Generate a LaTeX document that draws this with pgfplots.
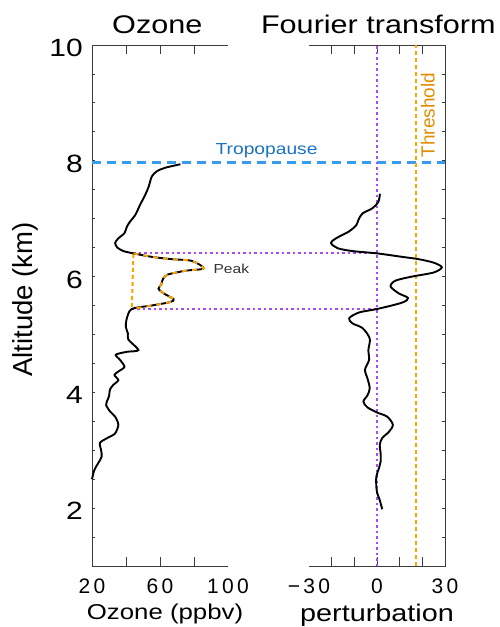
\documentclass[border=0pt]{standalone}
\usepackage{fontspec}
\setmainfont[FakeStretch=1.2]{Liberation Sans}
\newfontfamily\uprightsans{Liberation Sans}
\newfontfamily\tickfont[LetterSpace=16]{Liberation Sans}
\usepackage{pgfplots}
\pgfplotsset{compat=1.18}

\definecolor{tropo}{RGB}{55,155,240}
\definecolor{tropotext}{RGB}{25,115,195}
\definecolor{purp}{RGB}{170,75,245}
\definecolor{orng}{RGB}{255,165,0}
\definecolor{orngtext}{RGB}{225,140,0}
\definecolor{spine}{RGB}{60,60,60}

\pgfplotsset{
  panel/.style={
    scale only axis, width=136pt, height=521pt,
    anchor=south west,
    ymin=1, ymax=10,
    xtick pos=both,
    tick align=inside,
    axis line style={draw=none},
    major tick length=0pt, minor tick length=0pt,
    ytick={2,4,6,8,10},
    /pgf/number format/assume math mode=true,
    every x tick label/.append style={font=\tickfont\fontsize{21}{21}\selectfont, anchor=base, inner sep=0pt, yshift=-27pt},
    every y tick label/.append style={font=\fontsize{25}{25}\selectfont, anchor=east, inner sep=0pt, xshift=-9pt, yshift=-3pt},
    clip=false,
  },
  curve/.style={black, line width=1.9pt, smooth, tension=0.45, mark=none},
  purpline/.style={color=purp, line width=2pt, dash pattern=on 2.5pt off 3pt},
  orngline/.style={color=orng, line width=2pt, dash pattern=on 4pt off 3pt},
}

\begin{document}
\begin{tikzpicture}

% ---------------- ozone profile ----------------
\begin{axis}[panel, name=left, at={(0pt,0pt)},
    xmin=20, xmax=100,
    xtick={20,40,60,80,100}, xticklabels={20,,60,,100},
    yticklabels={2,4,6,8,10},
    ytick pos=left,
    title={Ozone}, xlabel={Ozone (ppbv)}, ylabel={Altitude (km)},
    every axis title/.style={font=\fontsize{25.5}{25.5}\selectfont, at={(axis description cs:0.48,1.023)}, anchor=base},
    every axis x label/.style={font=\fontsize{21.5}{21.5}\selectfont, at={(axis description cs:0.537,-0.1036)}, anchor=base},
    every axis y label/.style={font=\uprightsans\fontsize{27.5}{27.5}\selectfont, at={(axis description cs:-0.434,0.5115)}, anchor=base, rotate=90},
  ]
  % spines and ticks
  \draw[spine, line width=0.8pt] (rel axis cs:1,1) -- (rel axis cs:0,1) -- (rel axis cs:0,0) -- (rel axis cs:1,0);
  \pgfplotsinvokeforeach{40,60,80}{
    \draw[spine, line width=0.8pt] (axis cs:#1,1) -- ++(0pt,9pt);
    \draw[spine, line width=0.8pt] (axis cs:#1,10) -- ++(0pt,-9pt);
  }
  \pgfplotsinvokeforeach{1.5,2,2.5,3,3.5,4,4.5,5,5.5,6,6.5,7,7.5,8,8.5,9,9.5}{
    \draw[spine, line width=0.8pt] (axis cs:20,#1) -- ++(3pt,0pt);
  }
  % tropopause
  \addplot[tropo, line width=3pt, dash pattern=on 9pt off 6pt] coordinates {(20,7.97) (228.4,7.97)};
  % peak bounds
  \addplot[purpline] coordinates {(44.4,6.40) (188.9,6.40)};
  \addplot[purpline] coordinates {(43.4,5.44) (188.9,5.44)};
  \addplot[orngline] coordinates {(44.4,6.39) (43.4,5.45)};

  \addplot[curve] coordinates {
    (72.0,7.94) (63.1,7.88) (58.2,7.82) (55.2,7.73) (53.3,7.55) (51.3,7.41)
    (48.3,7.24) (45.4,7.06) (42.4,6.95) (40.5,6.86) (39.1,6.75) (35.5,6.66)
    (33.6,6.58) (34.9,6.50) (38.5,6.44) (44.4,6.40)
    (55.2,6.34) (67.0,6.30) (78.8,6.27) (85.7,6.14) (74.9,6.10) (64.1,6.03)
    (61.5,5.94) (60.7,5.86) (59.1,5.79) (62.1,5.71) (68.0,5.61) (66.1,5.56)
    (55.2,5.50) (43.4,5.44)
    (40.5,5.28) (39.9,5.13) (41.1,5.02) (41.4,4.91) (47.3,4.73) (40.5,4.70)
    (34.0,4.65) (36.5,4.56) (39.1,4.44) (35.5,4.36) (33.2,4.30) (35.5,4.21)
    (32.6,4.13) (30.6,4.05) (30.0,3.93) (28.7,3.84) (28.3,3.78) (30.6,3.67)
    (33.6,3.58) (35.5,3.44) (33.6,3.29) (29.6,3.22) (24.7,3.13) (25.3,3.01)
    (25.7,2.89) (23.7,2.78) (21.4,2.66) (20.0,2.50)
  };
  % highlighted peak
  \addplot[color=orng, line width=1.8pt, dash pattern=on 5pt off 5pt, smooth, tension=0.45] coordinates {
    (44.4,6.40) (55.2,6.34) (67.0,6.30) (78.8,6.27) (85.7,6.14) (74.9,6.10) (64.1,6.03)
    (61.5,5.94) (60.7,5.86) (59.1,5.79) (62.1,5.71) (68.0,5.61) (66.1,5.56)
    (55.2,5.50) (43.4,5.44)
  };

  \node[text=tropotext, font=\fontsize{16}{16}\selectfont, anchor=base, inner sep=0pt] at (axis cs:122.7,8.10) {Tropopause};
  \node[text=black!80, font=\fontsize{13}{13}\selectfont, anchor=base west, inner sep=0pt] at (axis cs:91.4,6.06) {Peak};
\end{axis}

% ---------------- Fourier transform ----------------
\begin{axis}[panel, name=right, at={(217pt,0pt)},
    xmin=-30, xmax=30,
    xtick={-30,-20,-10,0,10,20,30}, xticklabels={−30,,,0,,,30},
    yticklabels={},
    ytick pos=right,
    title={Fourier transform}, xlabel={perturbation},
    every axis title/.style={font=\fontsize{25.5}{25.5}\selectfont, at={(axis description cs:0.51,1.023)}, anchor=base},
    every axis x label/.style={font=\fontsize{24}{24}\selectfont, at={(axis description cs:0.5,-0.1056)}, anchor=base},
  ]
  % spines and ticks
  \draw[spine, line width=0.8pt] (rel axis cs:0,1) -- (rel axis cs:1,1) -- (rel axis cs:1,0) -- (rel axis cs:0,0);
  \pgfplotsinvokeforeach{-20,-10,0,10,20}{
    \draw[spine, line width=0.8pt] (axis cs:#1,1) -- ++(0pt,9pt);
    \draw[spine, line width=0.8pt] (axis cs:#1,10) -- ++(0pt,-9pt);
  }
  \pgfplotsinvokeforeach{1.5,2,2.5,3,3.5,4,4.5,5,5.5,6,6.5,7,7.5,8,8.5,9,9.5}{
    \draw[spine, line width=0.8pt] (axis cs:30,#1) -- ++(-3pt,0pt);
  }
  \addplot[purpline] coordinates {(0,1) (0,10)};
  \addplot[orngline] coordinates {(17,1) (17,10)};

  \addplot[curve, tension=0.5] coordinates {
    (1.3,7.43) (0.6,7.29) (-2.0,7.18) (-6.4,7.09) (-8.2,6.98) (-9.1,6.89)
    (-12.3,6.78) (-18.1,6.66) (-20.3,6.58) (-17.4,6.49) (-10.8,6.44) (0.1,6.40)
    (11.1,6.34) (18.4,6.30) (25.0,6.24) (28.6,6.16) (25.0,6.07) (15.5,6.00)
    (8.2,5.93) (6.0,5.83) (9.6,5.71) (13.7,5.63) (11.1,5.55) (0.1,5.44)
    (-7.9,5.38) (-12.3,5.28) (-10.8,5.19) (-6.4,5.11) (-3.2,4.93) (-3.8,4.73)
    (-3.5,4.56) (-5.3,4.39) (-4.2,4.24) (-3.2,4.07) (-4.2,3.95) (-6.0,3.84)
    (-4.2,3.74) (0.1,3.65) (4.5,3.58) (7.0,3.44) (5.3,3.32) (2.3,3.21)
    (1.2,3.09) (1.6,2.95) (1.6,2.80) (0.6,2.66) (-0.3,2.54) (-0.3,2.37)
    (0.1,2.26) (1.2,2.14) (2.3,1.98)
  };

  \node[rotate=90, anchor=base, text=orngtext, font=\uprightsans\fontsize{19}{19}\selectfont, inner sep=0pt] at (axis cs:25.4,8.79) {Threshold};
\end{axis}

\pgfresetboundingbox
\useasboundingbox (-92pt,-61pt) rectangle (408pt,566pt);
\end{tikzpicture}
\end{document}
